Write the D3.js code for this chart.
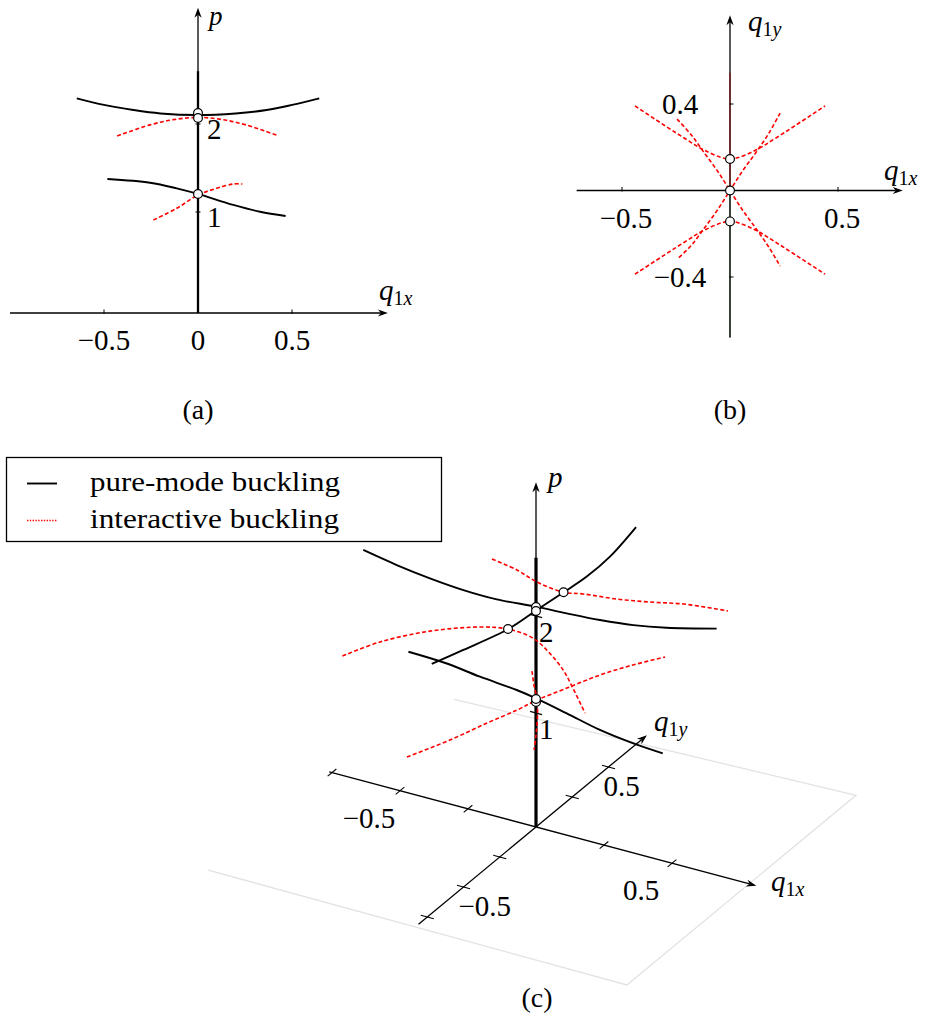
<!DOCTYPE html>
<html>
<head>
<meta charset="utf-8">
<script src="https://cdn.jsdelivr.net/npm/d3@7"></script>
<style>
  body { margin: 0; background: #fff; }
  svg { display: block; }
  text { font-family: "Liberation Serif", "DejaVu Serif", serif; fill: #000; }
</style>
</head>
<body>
<svg id="fig" width="927" height="1018"></svg>
<script>
// ---------------- Panel (a): load p against q1x ----------------
const aPureUpperQ  = [-0.645, -0.5, -0.344, -0.2, 0, 0.2, 0.365, 0.5, 0.645];
const aPureUpperP  = [2.292, 2.217, 2.159, 2.120, 2.102, 2.120, 2.159, 2.217, 2.292];
const aInterUpperQ = [-0.43, -0.255, -0.13, 0, 0.13, 0.255, 0.43];
const aInterUpperP = [1.864, 1.99, 2.05, 2.075, 2.05, 1.99, 1.864];
const aPureLowerQ  = [-0.482, -0.255, -0.113, 0, 0.188, 0.33, 0.466];
const aPureLowerP  = [1.375, 1.333, 1.269, 1.205, 1.080, 1.003, 0.955];
const aInterLowerQ = [-0.237, -0.113, 0, 0.099, 0.188, 0.236];
const aInterLowerP = [0.909, 1.042, 1.193, 1.269, 1.318, 1.318];
const aPointP      = [2.125, 2.068, 1.205];
const aQTicks      = [-0.5, 0, 0.5];
const aQTickLabels = ["\u22120.5", "0", "0.5"];
const pTicks       = [1, 2];
const pTickLabels  = ["1", "2"];
const aPFloor = -0.148, aPTop = 3.32, aQMin = -1.0, aQMax = 1.01;
const fundamentalTop = 2.6;

// ---------------- Panel (b): q1y against q1x ----------------
const bUpperQx = [-0.44, -0.3, -0.2, -0.12, 0, 0.12, 0.2, 0.3, 0.44];
const bUpperQy = [0.391, 0.299, 0.235, 0.187, 0.146, 0.187, 0.235, 0.299, 0.391];
const bLowerQx = [-0.44, -0.3, -0.2, -0.12, 0, 0.12, 0.2, 0.3, 0.44];
const bLowerQy = [-0.387, -0.296, -0.232, -0.184, -0.143, -0.184, -0.232, -0.296, -0.387];
const bCross1Qx = [-0.245, -0.18, -0.124, -0.06, 0, 0.06, 0.124, 0.18, 0.232];
const bCross1Qy = [0.33, 0.258, 0.181, 0.093, 0, -0.093, -0.181, -0.262, -0.35];
const bCross2Qx = [0.232, 0.18, 0.124, 0.06, 0, -0.06, -0.124, -0.18, -0.245];
const bCross2Qy = [0.358, 0.265, 0.181, 0.093, 0, -0.093, -0.181, -0.255, -0.318];
const bPointQy  = [0.146, 0, -0.143];
const bXTicks = [-0.5, 0.5], bXTickLabels = ["\u22120.5", "0.5"];
const bYTicks = [-0.4, 0.4], bYTickLabels = ["\u22120.4", "0.4"];
const bXMin = -0.71, bXMax = 0.80, bYMin = -0.68, bYMax = 0.81;

// ---------------- Panel (c): 3-D view (q1x, q1y, p) ----------------
const cK1Qx = [-0.635, -0.512, -0.39, -0.267, -0.144, 0, 0.113, 0.235, 0.358, 0.48, 0.664];
const cK1P  = [2.206, 2.143, 2.097, 2.068, 2.064, 2.096, 2.112, 2.135, 2.174, 2.238, 2.366];
const cK2Qy = [-0.719, -0.501, -0.191, 0.005, 0.188, 0.35, 0.51, 0.69];
const cK2P  = [2.395, 2.270, 2.102, 2.055, 2.009, 1.973, 1.981, 2.063];
const cK3Qx = [-0.469, -0.328, -0.206, -0.071, 0, 0.113, 0.235, 0.358, 0.466];
const cK3P  = [1.281, 1.265, 1.220, 1.184, 1.151, 1.081, 1.001, 0.954, 0.932];
const cR1Qx = [-0.368, -0.228, -0.118, 0, 0.065, 0.162, 0.253, 0.345, 0.465];
const cR1Qy = [0.387, 0.296, 0.23, 0.19, 0.205, 0.255, 0.312, 0.372, 0.452];
const cR1P  = [1.834, 1.938, 1.976, 2.010, 2.022, 1.980, 1.947, 1.921, 1.840];
const cR2Qx = [-0.468, -0.366, -0.23, -0.09, 0, 0.111, 0.2, 0.276, 0.327, 0.4];
const cR2Qy = [-0.457, -0.389, -0.3, -0.219, -0.193, -0.229, -0.282, -0.33, -0.363, -0.412];
const cR2P  = [1.803, 1.940, 2.043, 2.090, 2.104, 2.138, 2.117, 2.057, 1.962, 1.808];
const cR3Qx = [-0.272, -0.181, -0.103, -0.04, 0, 0.065, 0.135, 0.204, 0.272];
const cR3Qy = [-0.38, -0.253, -0.144, -0.056, 0, 0.091, 0.189, 0.286, 0.38];
const cR3P  = [0.813, 0.900, 0.998, 1.070, 1.129, 1.193, 1.259, 1.294, 1.310];
const cR4Qx = [-0.1, -0.05, 0, 0.03, 0.065, 0.1];
const cR4Qy = [0.16, 0.08, 0.007, -0.046, -0.122, -0.201];
const cR4P  = [1.160, 1.152, 1.136, 1.048, 0.972, 0.943];
const cPointQy = [0, 0, 0.19, -0.193, 0, 0];
const cPointP  = [2.093, 2.052, 2.010, 2.104, 1.113, 1.144];
const cPlaneQx = [-0.8, 0.75, 0.75, -0.69];
const cPlaneQy = [-0.76, -0.78, 0.8, 0.73];
const cPlaneP  = -0.278;
const cTicks = [-0.75, -0.5, -0.25, 0.25, 0.5];
const cTickLabelValues = [-0.5, 0.5], cTickLabels = ["\u22120.5", "0.5"];
const cPFloor = -0.175, cPTop = 3.38;
const cQxMin = -0.76, cQxMax = 0.81, cQyMin = -0.81, cQyMax = 0.765;

const legendNames = ["pure-mode buckling", "interactive buckling"];

// ---------------- drawing helpers ----------------
const svg = d3.select("#fig");
const RED = "#ff0000";
const DASH = "4,2.4";
const NUM_SIZE = "29px";

function arrowLine(g, p0, p1, width) {
  const dx = p1[0] - p0[0], dy = p1[1] - p0[1], len = Math.hypot(dx, dy);
  const ux = dx / len, uy = dy / len;
  const L = 10, W = 3.6, N = 3;
  g.append("line")
    .attr("x1", p0[0]).attr("y1", p0[1])
    .attr("x2", p1[0] - ux * (L - N)).attr("y2", p1[1] - uy * (L - N))
    .attr("stroke", "#000").attr("stroke-width", width || 1.3);
  const pts = [[0, 0], [-L, W], [-L + N, 0], [-L, -W]]
    .map(([a, b]) => [p1[0] + ux * a - uy * b, p1[1] + uy * a + ux * b]);
  g.append("path").attr("d", "M" + pts.join("L") + "Z").attr("fill", "#000");
}

function qLabel(g, x, y, sub) {
  const t = g.append("text").attr("x", x).attr("y", y).style("font-size", "29px");
  t.append("tspan").style("font-style", "italic").text("q");
  t.append("tspan").attr("dy", 5).style("font-size", "20px").text("1");
  t.append("tspan").style("font-style", "italic").style("font-size", "20px").text(sub);
}

function pLabel(g, x, y, size) {
  g.append("text").attr("x", x).attr("y", y).style("font-size", size || "29px")
    .style("font-style", "italic").text("p");
}

function drawPath(g, pts, red) {
  g.append("path")
    .attr("d", d3.line().curve(d3.curveCatmullRom.alpha(0.5))(pts))
    .attr("fill", "none")
    .attr("stroke", red ? RED : "#000")
    .attr("stroke-width", red ? 1.6 : 1.9)
    .attr("stroke-dasharray", red ? DASH : null);
}

function circle(g, pt) {
  g.append("circle").attr("cx", pt[0]).attr("cy", pt[1]).attr("r", 4.4)
    .attr("fill", "#fff").attr("stroke", "#000").attr("stroke-width", 1.2);
}

// ---------------- Panel (a) ----------------
(function () {
  const g = svg.append("g");
  const x = d3.scaleLinear().domain([-0.5, 0.5]).range([104, 292]);
  const y = d3.scaleLinear().domain([1, 2]).range([212, 124]);
  const yAxis = y(aPFloor), x0 = x(0);

  arrowLine(g, [x(aQMin), yAxis], [x(aQMax), yAxis]);
  arrowLine(g, [x0, yAxis], [x0, y(aPTop)]);
  g.append("line").attr("x1", x0).attr("x2", x0)
    .attr("y1", yAxis).attr("y2", y(fundamentalTop))
    .attr("stroke", "#000").attr("stroke-width", 2.3);

  aQTicks.forEach((v, i) => {
    if (v !== 0) g.append("line").attr("x1", x(v)).attr("x2", x(v))
      .attr("y1", yAxis - 3.5).attr("y2", yAxis + 1)
      .attr("stroke", "#000").attr("stroke-width", 1);
    g.append("text").attr("x", x(v)).attr("y", yAxis + 37)
      .attr("text-anchor", "middle").style("font-size", NUM_SIZE).text(aQTickLabels[i]);
  });
  pTicks.forEach((v, i) => {
    g.append("line").attr("x1", x0 - 2.5).attr("x2", x0 + 2.5)
      .attr("y1", y(v)).attr("y2", y(v)).attr("stroke", "#000").attr("stroke-width", 1);
    g.append("text").attr("x", x0 + 9).attr("y", y(v) + 15)
      .style("font-size", NUM_SIZE).text(pTickLabels[i]);
  });

  drawPath(g, aPureUpperQ.map((q, i) => [x(q), y(aPureUpperP[i])]), false);
  drawPath(g, aPureLowerQ.map((q, i) => [x(q), y(aPureLowerP[i])]), false);
  drawPath(g, aInterUpperQ.map((q, i) => [x(q), y(aInterUpperP[i])]), true);
  drawPath(g, aInterLowerQ.map((q, i) => [x(q), y(aInterLowerP[i])]), true);
  aPointP.forEach(p => circle(g, [x0, y(p)]));

  pLabel(g, 209, 25, "27px");
  qLabel(g, 379, 300, "x");
  g.append("text").attr("x", x0).attr("y", 419).attr("text-anchor", "middle")
    .style("font-size", "28px").text("(a)");
})();

// ---------------- Panel (b) ----------------
(function () {
  const g = svg.append("g");
  const x = d3.scaleLinear().domain([-0.5, 0.5]).range([622, 838]);
  const y = d3.scaleLinear().domain([-0.4, 0.4]).range([277, 104]);
  const x0 = x(0), y0 = y(0);

  arrowLine(g, [x(bXMin), y0], [x(bXMax), y0]);
  arrowLine(g, [x0, y(bYMin)], [x0, y(bYMax)]);
  // fundamental path seen from above
  g.append("line").attr("x1", x0).attr("x2", x0).attr("y1", y0).attr("y2", y(0.545))
    .attr("stroke", "#7a1414").attr("stroke-width", 1.2);
  g.append("line").attr("x1", x0).attr("x2", x0).attr("y1", y0).attr("y2", y(bYMin))
    .attr("stroke", "#203a20").attr("stroke-width", 1.2);

  bXTicks.forEach((v, i) => {
    g.append("line").attr("x1", x(v)).attr("x2", x(v)).attr("y1", y0 - 3.5).attr("y2", y0 + 1)
      .attr("stroke", "#000").attr("stroke-width", 1);
    g.append("text").attr("x", x(v) + 4).attr("y", y0 + 37).attr("text-anchor", "middle")
      .style("font-size", NUM_SIZE).text(bXTickLabels[i]);
  });
  bYTicks.forEach((v, i) => {
    g.append("line").attr("x1", x0 - 1).attr("x2", x0 + 3.5).attr("y1", y(v)).attr("y2", y(v))
      .attr("stroke", "#000").attr("stroke-width", 1);
    g.append("text").attr("x", x0 - 50).attr("y", y(v) + 10).attr("text-anchor", "middle")
      .style("font-size", NUM_SIZE).text(bYTickLabels[i]);
  });

  drawPath(g, bUpperQx.map((q, i) => [x(q), y(bUpperQy[i])]), true);
  drawPath(g, bLowerQx.map((q, i) => [x(q), y(bLowerQy[i])]), true);
  drawPath(g, bCross1Qx.map((q, i) => [x(q), y(bCross1Qy[i])]), true);
  drawPath(g, bCross2Qx.map((q, i) => [x(q), y(bCross2Qy[i])]), true);
  bPointQy.forEach(v => circle(g, [x0, y(v)]));

  qLabel(g, 748, 31, "y");
  qLabel(g, 884, 180, "x");
  g.append("text").attr("x", x0).attr("y", 419).attr("text-anchor", "middle")
    .style("font-size", "28px").text("(b)");
})();

// ---------------- Legend ----------------
(function () {
  const g = svg.append("g");
  g.append("rect").attr("x", 6.5).attr("y", 457.5).attr("width", 435).attr("height", 84)
    .attr("fill", "#fff").attr("stroke", "#000").attr("stroke-width", 1.3);
  const rows = [483.5, 520.5];
  g.append("line").attr("x1", 27).attr("x2", 57).attr("y1", rows[0]).attr("y2", rows[0])
    .attr("stroke", "#000").attr("stroke-width", 1.9);
  g.append("line").attr("x1", 27).attr("x2", 57).attr("y1", rows[1]).attr("y2", rows[1])
    .attr("stroke", RED).attr("stroke-width", 1.3).attr("stroke-dasharray", "1.4,1.4");
  legendNames.forEach((name, i) => {
    g.append("text").attr("x", 90).attr("y", rows[i] + 7)
      .attr("textLength", i === 0 ? 250 : 249).attr("lengthAdjust", "spacingAndGlyphs")
      .style("font-size", "28px").text(name);
  });
})();

// ---------------- Panel (c) ----------------
(function () {
  const g = svg.append("g");
  // oblique projection of (q1x, q1y, p) onto the page
  const sx = d3.scaleLinear().domain([0, 1]).range([0, 272]);   // q1x direction, horizontal part
  const sxy = d3.scaleLinear().domain([0, 1]).range([0, 72.5]); // q1x direction, vertical part
  const sy = d3.scaleLinear().domain([0, 1]).range([0, 145]);   // q1y direction, horizontal part
  const syy = d3.scaleLinear().domain([0, 1]).range([0, -120]); // q1y direction, vertical part
  const sp = d3.scaleLinear().domain([0, 1]).range([810, 713]); // p direction
  const P = (qx, qy, p) => [536 + sx(qx) + sy(qy), sp(p) + sxy(qx) + syy(qy)];

  // reference plane
  const plane = cPlaneQx.map((q, i) => P(q, cPlaneQy[i], cPlaneP));
  g.append("path").attr("d", d3.line()(plane)).attr("fill", "none")
    .attr("stroke", "#e2e2e2").attr("stroke-width", 1.3);

  // axes
  arrowLine(g, P(cQxMin, 0, cPFloor), P(cQxMax, 0, cPFloor));
  arrowLine(g, P(0, cQyMin, cPFloor), P(0, cQyMax, cPFloor));
  arrowLine(g, P(0, 0, cPFloor), P(0, 0, cPTop));
  const f0 = P(0, 0, cPFloor), f1 = P(0, 0, fundamentalTop);
  g.append("line").attr("x1", f0[0]).attr("y1", f0[1]).attr("x2", f1[0]).attr("y2", f1[1])
    .attr("stroke", "#000").attr("stroke-width", 3.2);

  const tick = (a, b) => g.append("line").attr("x1", a[0]).attr("y1", a[1])
    .attr("x2", b[0]).attr("y2", b[1]).attr("stroke", "#000").attr("stroke-width", 1.1);
  cTicks.forEach(v => {
    tick(P(v, -0.03, cPFloor), P(v, 0.03, cPFloor));
    tick(P(-0.024, v, cPFloor), P(0.024, v, cPFloor));
  });
  cTickLabelValues.forEach((v, i) => {
    const a = P(v, 0, cPFloor);
    g.append("text").attr("x", a[0] - 31).attr("y", a[1] + 37).attr("text-anchor", "middle")
      .style("font-size", NUM_SIZE).text(cTickLabels[i]);
    const b = P(0, v, cPFloor);
    g.append("text").attr("x", b[0] - 5).attr("y", b[1] + 29)
      .style("font-size", NUM_SIZE).text(cTickLabels[i]);
  });
  pTicks.forEach((v, i) => {
    tick(P(-0.022, 0, v), P(0.022, 0, v));
    const a = P(0, 0, v);
    g.append("text").attr("x", a[0] + 3).attr("y", a[1] + 26)
      .style("font-size", NUM_SIZE).text(pTickLabels[i]);
  });

  // equilibrium paths
  drawPath(g, cK1Qx.map((q, i) => P(q, 0, cK1P[i])), false);
  drawPath(g, cK2Qy.map((q, i) => P(0, q, cK2P[i])), false);
  drawPath(g, cK3Qx.map((q, i) => P(q, 0, cK3P[i])), false);
  drawPath(g, cR1Qx.map((q, i) => P(q, cR1Qy[i], cR1P[i])), true);
  drawPath(g, cR2Qx.map((q, i) => P(q, cR2Qy[i], cR2P[i])), true);
  drawPath(g, cR3Qx.map((q, i) => P(q, cR3Qy[i], cR3P[i])), true);
  drawPath(g, cR4Qx.map((q, i) => P(q, cR4Qy[i], cR4P[i])), true);
  cPointP.forEach((p, i) => circle(g, P(0, cPointQy[i], p)));

  pLabel(g, 548, 487);
  qLabel(g, 654, 731, "y");
  qLabel(g, 771, 891, "x");
  g.append("text").attr("x", 537).attr("y", 1007).attr("text-anchor", "middle")
    .style("font-size", "28px").text("(c)");
})();
</script>
</body>
</html>
